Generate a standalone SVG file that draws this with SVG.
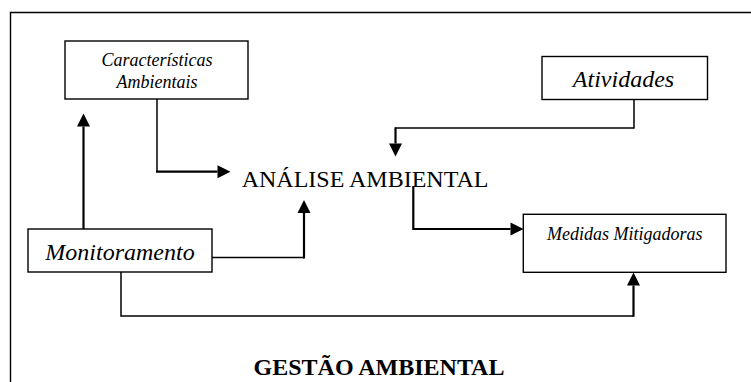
<svg xmlns="http://www.w3.org/2000/svg" width="751" height="382" viewBox="0 0 751 382">
<style>
.box{fill:#fff;stroke:#000;stroke-width:1.4}
.t{font-family:"Liberation Serif","Times New Roman",serif;fill:#000}
.i{font-style:italic}
.thin{fill:none;stroke:#000;stroke-width:1.5}
.thick{fill:none;stroke:#000;stroke-width:2.2}
</style>
<defs>
<marker id="ah" markerUnits="userSpaceOnUse" markerWidth="14" markerHeight="14" refX="0" refY="6.5" orient="auto" overflow="visible">
<path d="M0,0 L13,6.5 L0,13 z" fill="#000"/>
</marker>
</defs>
<rect width="751" height="382" fill="#fff"/>
<g id="frame">
<path d="M10.5,382 V12.5 H751" fill="none" stroke="#000" stroke-width="1.4"/>
</g>
<g id="connectors">
<path class="thin" d="M157,99 V171.7"/>
<path class="thick" d="M156,171.7 H217.5" marker-end="url(#ah)"/>
<path class="thin" d="M634,99 V128 H395.5"/>
<path class="thick" d="M395.5,127.3 V143.5" marker-end="url(#ah)"/>
<path class="thick" d="M413.3,186 V229 H510.5" marker-end="url(#ah)"/>
<path class="thick" d="M83.5,229 V126.5" marker-end="url(#ah)"/>
<path class="thin" d="M212,257.5 H304"/>
<path class="thick" d="M304,258.5 V213" marker-end="url(#ah)"/>
<path class="thin" d="M121,272 V316 H633.5"/>
<path class="thick" d="M633.5,316.7 V285.5" marker-end="url(#ah)"/>
</g>
<g id="caracteristicas">
<rect class="box" x="65" y="41" width="183" height="58"/>
<text class="t i" x="157" y="66" font-size="18" text-anchor="middle">Características</text>
<text class="t i" x="157" y="87.5" font-size="18" text-anchor="middle">Ambientais</text>
</g>
<g id="atividades">
<rect class="box" x="542" y="56.5" width="165.5" height="43"/>
<text class="t i" x="623.5" y="86.7" font-size="24" text-anchor="middle">Atividades</text>
</g>
<g id="analise">
<text class="t" x="241.7" y="186.7" font-size="24">ANÁLISE AMBIENTAL</text>
</g>
<g id="monitoramento">
<rect class="box" x="28" y="229" width="184" height="43"/>
<text class="t i" x="120" y="260" font-size="24" text-anchor="middle">Monitoramento</text>
</g>
<g id="medidas">
<rect class="box" x="523.3" y="214.3" width="202.7" height="58"/>
<text class="t i" x="624.7" y="240" font-size="18" text-anchor="middle">Medidas Mitigadoras</text>
</g>
<g id="gestao">
<text class="t" x="379" y="375" font-size="24" font-weight="bold" text-anchor="middle">GESTÃO AMBIENTAL</text>
</g>
</svg>
